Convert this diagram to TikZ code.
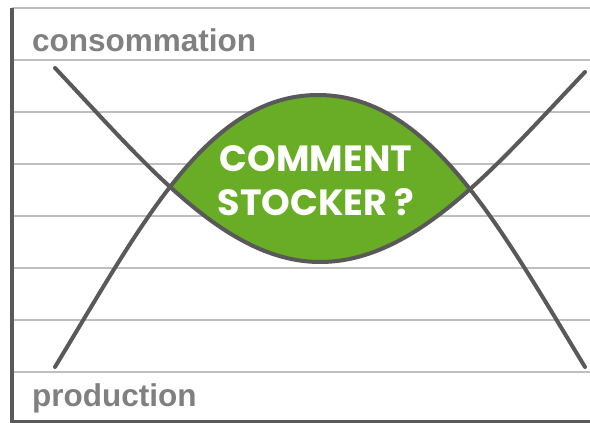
\documentclass[tikz,border=0pt]{standalone}
\usepackage{fontspec}
\setmainfont{Liberation Sans}
\newfontfamily\gothic{Poppins}
\definecolor{axisgray}{RGB}{89,89,89}
\definecolor{gridgray}{RGB}{191,191,191}
\definecolor{labelgray}{RGB}{128,128,128}
\definecolor{leafgreen}{RGB}{105,172,37}
\tikzset{
  gridline/.style={draw=gridgray, line width=1.7pt},
  axisline/.style={draw=axisgray, line width=4pt},
  curve/.style={draw=axisgray, line width=4pt, line cap=round},
  axislabel/.style={text=labelgray, font=\fontsize{31.5}{36}\selectfont\bfseries, inner sep=0pt, anchor=base west},
  leaftext/.style={text=white, font=\gothic\fontsize{36.5}{44}\selectfont\bfseries, inner sep=0pt, anchor=base}
}
\begin{document}
\begin{tikzpicture}[x=1pt,y=-1pt]
\useasboundingbox (0,0) rectangle (590,423);
% grid
\foreach \yy in {8,60,112,164,216,268,320,372}
  \draw[gridline] (12,\yy) -- (590,\yy);
% axes
\draw[axisline] (12,8) -- (12,423);
\draw[draw=axisgray, line width=3pt] (12,421.5) -- (590,421.5);
% green lens
\begin{scope}
  \clip (55,367) .. controls (143,222) and (208,95) .. (318,95)
        .. controls (428,95) and (497,222) .. (585,367) -- (585,423) -- (55,423) -- cycle;
  \fill[leafgreen] (55,68) .. controls (145,163) and (225,262) .. (320,262)
        .. controls (415,262) and (495,167) .. (585,72) -- (585,0) -- (55,0) -- cycle;
\end{scope}
% curves
\draw[curve] (55,367) .. controls (143,222) and (208,95) .. (318,95)
        .. controls (428,95) and (497,222) .. (585,367);
\draw[curve] (55,68) .. controls (145,163) and (225,262) .. (320,262)
        .. controls (415,262) and (495,167) .. (585,72);
% labels
\node[axislabel] (cons) at (32,52) {consommation};
\node[axislabel] (prod) at (32,406) {production};
\node[leaftext] (l1) at (316,171) {COMMENT};
\node[leaftext] (l2) at (316,215) {STOCKER ?};
\end{tikzpicture}
\end{document}
